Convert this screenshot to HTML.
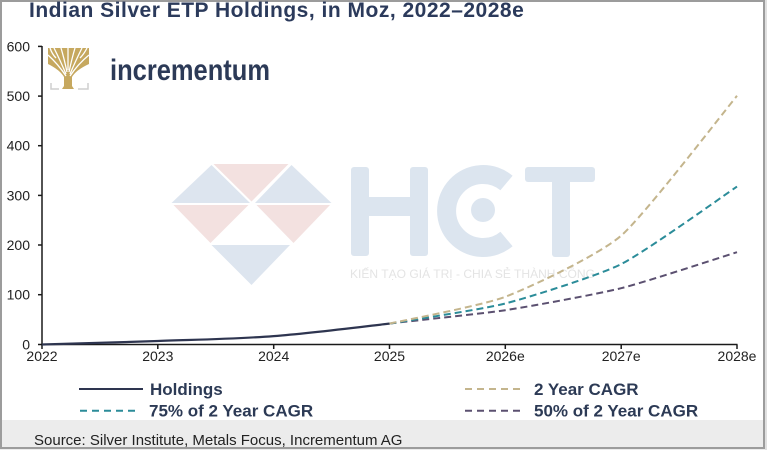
<!DOCTYPE html>
<html><head><meta charset="utf-8">
<style>
html,body{margin:0;padding:0;background:#fff;}
svg{display:block;}
text{font-family:"Liberation Sans","Noto Sans CJK SC",sans-serif;}
</style></head>
<body>
<svg width="767" height="450" viewBox="0 0 767 450" xmlns="http://www.w3.org/2000/svg">
<rect x="0" y="0" width="767" height="450" fill="#ffffff"/>
<!-- footer band -->
<rect x="0" y="420" width="767" height="30" fill="#ececec"/>
<!-- frame -->
<rect x="1" y="1" width="763" height="447" fill="none" stroke="#9c9c9c" stroke-width="2"/>
<rect x="765" y="0" width="2" height="450" fill="#e0e0e0"/>

<!-- watermark diamond -->
<g>
<polygon points="211.5,165 171.5,203 250,203" fill="#dde5ef"/>
<polygon points="213.5,164 288.5,164 251.5,201.5" fill="#f3e1e0"/>
<polygon points="291.5,165 255,203 331.5,203" fill="#dde5ef"/>
<polygon points="173.5,205 248.5,205 210.5,243" fill="#f3e1e0"/>
<polygon points="256.5,205 330,205 293.5,243" fill="#f3e1e0"/>
<polygon points="211.5,245 290,245 251.5,285" fill="#dde5ef"/>
</g>
<!-- watermark HCT -->
<g fill="#dce5ef">
<rect x="351" y="167" width="18" height="89" rx="3"/>
<rect x="410" y="167" width="18" height="89" rx="3"/>
<rect x="368" y="197" width="43" height="19"/>
<path d="M506.5,183 A36.5,36.5 0 1 0 506.5,239" fill="none" stroke="#dce5ef" stroke-width="19"/>
<circle cx="483" cy="210" r="12"/>
<rect x="525" y="167" width="70" height="15" rx="3"/>
<rect x="552" y="167" width="18" height="90" rx="3"/>
</g>
<text x="350" y="278" font-size="12" fill="#e4e4e4" textLength="245" lengthAdjust="spacingAndGlyphs">KIẾN TẠO GIÁ TRỊ - CHIA SẺ THÀNH CÔNG</text>

<!-- title -->
<text x="29" y="17" font-size="21" font-weight="bold" fill="#2b3a5b" letter-spacing="0.5">Indian Silver ETP Holdings, in Moz, 2022–2028e</text>

<!-- logo -->
<g>
<path d="M48,48 L89,48 L89,64 Q76,70 72,77 L72,86 L74,89 L62,89 L64,86 L64,77 Q60,70 48,64 Z" fill="#c6a85f"/>
<g stroke="#ffffff" stroke-width="1.3" fill="none">
<path d="M66,76 Q58,64 48,55"/>
<path d="M66,74 Q60,60 54,48"/>
<path d="M67,72 Q64,58 61,48"/>
<path d="M68,70 L68,48"/>
<path d="M69,72 Q72,58 75,48"/>
<path d="M70,74 Q76,60 82,48"/>
<path d="M70,76 Q78,64 89,55"/>
<path d="M56,58 Q52,54 50,48"/>
<path d="M80,58 Q84,54 87,48"/>
</g>
<path d="M51,83 L51,89 L59,89" fill="none" stroke="#cfcfcf" stroke-width="1.5"/>
<path d="M88,83 L88,89 L78,89" fill="none" stroke="#cfcfcf" stroke-width="1.5"/>
<text x="110" y="80" font-size="30" font-weight="bold" fill="#2c3a57" textLength="160" lengthAdjust="spacingAndGlyphs">incrementum</text>
</g>

<!-- axes -->
<g stroke="#1a1a1a" stroke-width="1.5" fill="none">
<line x1="42" y1="46" x2="42" y2="345"/>
<line x1="41" y1="344.5" x2="737.5" y2="344.5"/>
<line x1="38" y1="46.4" x2="42" y2="46.4"/>
<line x1="38" y1="96.1" x2="42" y2="96.1"/>
<line x1="38" y1="145.7" x2="42" y2="145.7"/>
<line x1="38" y1="195.4" x2="42" y2="195.4"/>
<line x1="38" y1="245" x2="42" y2="245"/>
<line x1="38" y1="294.7" x2="42" y2="294.7"/>
<line x1="38" y1="344.5" x2="42" y2="344.5"/>
<line x1="42" y1="344.5" x2="42" y2="349"/>
<line x1="157.8" y1="344.5" x2="157.8" y2="349"/>
<line x1="273.7" y1="344.5" x2="273.7" y2="349"/>
<line x1="389.5" y1="344.5" x2="389.5" y2="349"/>
<line x1="505.3" y1="344.5" x2="505.3" y2="349"/>
<line x1="621.2" y1="344.5" x2="621.2" y2="349"/>
<line x1="737" y1="344.5" x2="737" y2="349"/>
</g>
<g font-size="14" fill="#222" text-anchor="end">
<text x="30" y="51.5">600</text>
<text x="30" y="101">500</text>
<text x="30" y="150.7">400</text>
<text x="30" y="200.4">300</text>
<text x="30" y="250">200</text>
<text x="30" y="299.7">100</text>
<text x="30" y="349.5">0</text>
</g>
<g font-size="14" fill="#222" text-anchor="middle">
<text x="42" y="361">2022</text>
<text x="157.8" y="361">2023</text>
<text x="273.7" y="361">2024</text>
<text x="389.5" y="361">2025</text>
<text x="505.3" y="361">2026e</text>
<text x="621.2" y="361">2027e</text>
<text x="737" y="361">2028e</text>
</g>

<!-- series -->
<g fill="none" stroke-width="2">
<path d="M389.5,323.6 C401,322 482,313.7 505.3,310.2 C528.5,306.7 598,294 621.2,288.2 C644.4,282.4 725.4,255.8 737,252.2" stroke="#5b5070" stroke-dasharray="7,4"/>
<path d="M389.5,323.6 C401,321.6 482,309.5 505.3,303.5 C528.5,297.5 598,275.8 621.2,264.1 C644.4,252.4 725.4,194.4 737,186.6" stroke="#2b8c99" stroke-dasharray="7,4"/>
<path d="M389.5,323.6 C401,320.9 482,305.6 505.3,296.8 C528.5,288 598,255.7 621.2,235.6 C644.4,215.5 725.4,109.8 737,95.8" stroke="#c4b58d" stroke-dasharray="7,4"/>
<path d="M42,344.5 C61.3,343.9 119.2,342.4 157.8,341 C196.4,339.6 235.1,339 273.7,336.1 C312.3,333.2 370.2,325.7 389.5,323.6" stroke="#2e3550" stroke-width="2.2"/>
</g>

<!-- legend -->
<g stroke-width="2" fill="none">
<line x1="79" y1="389" x2="143" y2="389" stroke="#2e3550"/>
<line x1="80" y1="410.7" x2="137" y2="410.7" stroke="#2b8c99" stroke-dasharray="7,5"/>
<line x1="465" y1="389" x2="523" y2="389" stroke="#c4b58d" stroke-dasharray="7,5"/>
<line x1="465" y1="410.7" x2="523" y2="410.7" stroke="#5b5070" stroke-dasharray="7,5"/>
</g>
<g font-size="17" font-weight="bold" fill="#2c3a55">
<text x="150" y="395">Holdings</text>
<text x="149" y="416.5">75% of 2 Year CAGR</text>
<text x="534" y="395">2 Year CAGR</text>
<text x="534" y="416.5">50% of 2 Year CAGR</text>
</g>

<!-- source -->
<text x="34" y="445" font-size="15" fill="#222">Source: Silver Institute, Metals Focus, Incrementum AG</text>
</svg>
</body></html>
